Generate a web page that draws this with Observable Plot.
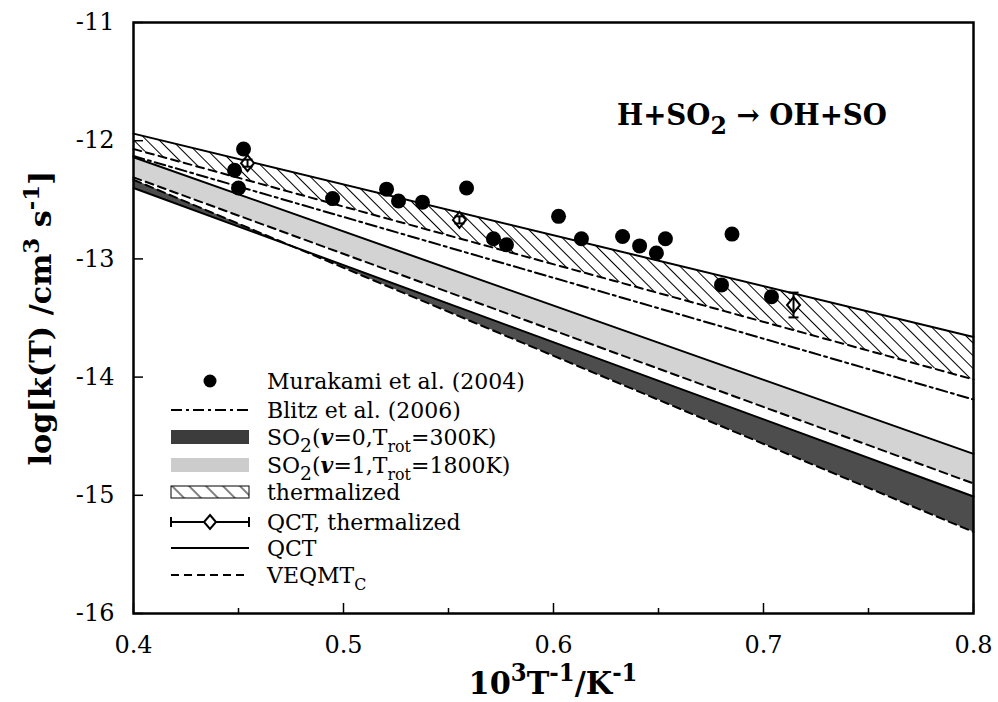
<!DOCTYPE html>
<html><head><meta charset="utf-8">
<script src="https://cdn.jsdelivr.net/npm/d3@7"></script>
<script src="https://cdn.jsdelivr.net/npm/@observablehq/plot@0.6"></script>
<style>body{margin:0;background:#fff;} svg{display:block}</style>
</head><body><div id="chart"></div>
<script>
// ---- data ----
const xEnds = [0.4, 0.8];
const qctThermalized = [-11.94, -13.66];
const veqmtThermalized = [-12.07, -14.02];
const blitz2006 = [-12.13, -14.19];
const qctV1 = [-12.14, -14.65];
const veqmtV1 = [-12.31, -14.90];
const qctV0 = [-12.40, -15.01];
const veqmtV0 = [-12.33, -15.31];

const murakamiX = [0.4524, 0.4481, 0.4500, 0.4948, 0.5205, 0.5262, 0.5376, 0.5586, 0.5714, 0.5776, 0.6024, 0.6133, 0.6329, 0.6410, 0.6490, 0.6533, 0.6850, 0.6800, 0.7038];
const murakamiY = [-12.07, -12.25, -12.40, -12.49, -12.41, -12.51, -12.52, -12.40, -12.83, -12.88, -12.64, -12.83, -12.81, -12.89, -12.95, -12.83, -12.79, -13.22, -13.32];

const qctTX = [0.4543, 0.5552, 0.7143];
const qctTY = [-12.19, -12.67, -13.39];
const qctTErr = [0.03, 0.03, 0.105];

const xTicks = [0.4, 0.5, 0.6, 0.7, 0.8];
const xMinorTicks = [0.45, 0.55, 0.65, 0.75];
const yTicks = [-16, -15, -14, -13, -12, -11];

const legendLabels = ["Murakami et al. (2004)", "Blitz et al. (2006)", "SO2(v=0,Trot=300K)", "SO2(v=1,Trot=1800K)", "thermalized", "QCT, thermalized", "QCT", "VEQMTC"];

// ---- tables ----
const rows = xEnds.map((x, i) => ({x, qctT: qctThermalized[i], veqT: veqmtThermalized[i], blitz: blitz2006[i],
  qctV1: qctV1[i], veqV1: veqmtV1[i], qctV0: qctV0[i], veqV0: veqmtV0[i]}));
const murakami = murakamiX.map((x, i) => ({x, y: murakamiY[i]}));
const qctT = qctTX.map((x, i) => ({x, y: qctTY[i], e: qctTErr[i]}));

const capSym = {draw(ctx) { ctx.moveTo(-5, 0); ctx.lineTo(5, 0); }};
const diamondSym = {draw(ctx) { ctx.moveTo(0, -8); ctx.lineTo(6.5, 0); ctx.lineTo(0, 8); ctx.lineTo(-6.5, 0); ctx.closePath(); }};

const W = 998, H = 702, mL = 133, mR = 25, mT = 22, mB = 89;
const fw = W - mL - mR, fh = H - mT - mB;

const chart = Plot.plot({
  width: W, height: H, marginLeft: mL, marginRight: mR, marginTop: mT, marginBottom: mB,
  x: {domain: [0.4, 0.8]},
  y: {domain: [-16, -11]},
  style: {background: "#fff", color: "#000", fontFamily: "DejaVu Serif", fontSize: "24px", overflow: "visible"},
  marks: [
    Plot.areaY(rows, {x: "x", y1: "veqT", y2: "qctT", fill: "url(#hatch)"}),
    Plot.areaY(rows, {x: "x", y1: "veqV1", y2: "qctV1", fill: "#d3d3d3"}),
    Plot.areaY(rows, {x: "x", y1: "veqV0", y2: "qctV0", fill: "#4d4d4d"}),
    Plot.line(rows, {x: "x", y: "qctT", stroke: "#000", strokeWidth: 2}),
    Plot.line(rows, {x: "x", y: "veqT", stroke: "#000", strokeWidth: 2, strokeDasharray: "8,5"}),
    Plot.line(rows, {x: "x", y: "blitz", stroke: "#000", strokeWidth: 2, strokeDasharray: "11,4,3,4"}),
    Plot.line(rows, {x: "x", y: "qctV1", stroke: "#000", strokeWidth: 2}),
    Plot.line(rows, {x: "x", y: "veqV1", stroke: "#000", strokeWidth: 2, strokeDasharray: "8,5"}),
    Plot.line(rows, {x: "x", y: "qctV0", stroke: "#000", strokeWidth: 2}),
    Plot.line(rows, {x: "x", y: "veqV0", stroke: "#000", strokeWidth: 2, strokeDasharray: "8,5"}),
    Plot.dot(murakami, {x: "x", y: "y", r: 7.5, fill: "#000"}),
    Plot.dot(qctT, {x: "x", y: "y", symbol: diamondSym, fill: "#fff", stroke: "#000", strokeWidth: 2}),
    Plot.ruleX(qctT, {x: "x", y1: d => d.y - d.e, y2: d => d.y + d.e, stroke: "#000", strokeWidth: 2}),
    Plot.dot(qctT, {x: "x", y: d => d.y + d.e, symbol: capSym, fill: "none", stroke: "#000", strokeWidth: 2}),
    Plot.dot(qctT, {x: "x", y: d => d.y - d.e, symbol: capSym, fill: "none", stroke: "#000", strokeWidth: 2}),
    Plot.tickX(xTicks, {x: d => d, insetTop: fh - 10, stroke: "#000", strokeWidth: 1.5}),
    Plot.tickX(xMinorTicks, {x: d => d, insetTop: fh - 5, stroke: "#000", strokeWidth: 1.5}),
    Plot.tickY(yTicks, {y: d => d, insetRight: fw - 10, stroke: "#000", strokeWidth: 1.5}),
    Plot.frame({stroke: "#000", strokeWidth: 2.5}),
    Plot.axisX(xTicks, {tickSize: 0, tickPadding: 22, tickFormat: d => d.toFixed(1), label: null, fontSize: 24}),
    Plot.axisY(yTicks, {tickSize: 0, tickPadding: 19, tickFormat: d => String(d), label: null, fontSize: 24})
  ]
});
document.getElementById("chart").appendChild(chart);

// ---- decorations: hatch pattern, titles, annotation, legend ----
const svg = d3.select(chart);
const defs = svg.insert("defs", ":first-child");
const pat = defs.append("pattern").attr("id", "hatch").attr("patternUnits", "userSpaceOnUse")
  .attr("width", 9).attr("height", 9).attr("patternTransform", "rotate(-45)");
pat.append("line").attr("x1", 4.5).attr("y1", 0).attr("x2", 4.5).attr("y2", 9).attr("stroke", "#000").attr("stroke-width", 1);
const pat2 = defs.append("pattern").attr("id", "hatchL").attr("patternUnits", "userSpaceOnUse")
  .attr("width", 12).attr("height", 12).attr("patternTransform", "rotate(-45)");
pat2.append("line").attr("x1", 6).attr("y1", 0).attr("x2", 6).attr("y2", 12).attr("stroke", "#000").attr("stroke-width", 1);

function rich(g, segs, size, opts = {}) {
  const t = g.append("text").attr("font-family", "DejaVu Serif").attr("font-size", size).attr("fill", "#000")
    .attr("text-anchor", opts.anchor || "start");
  if (opts.bold) t.attr("font-weight", "bold");
  let shift = 0;
  for (const s of segs) {
    const sp = t.append("tspan").text(s.t);
    let target = 0, fs = size;
    if (s.sub) { target = size * 0.32; fs = size * (s.scale || 0.72); }
    if (s.sup) { target = -size * 0.42; fs = size * (s.scale || 0.75); }
    sp.attr("font-size", fs);
    if (target !== shift) { sp.attr("dy", target - shift); shift = target; }
    if (s.bi) sp.attr("font-weight", "bold").attr("font-style", "italic");
  }
  return t;
}

// y title
rich(svg.append("g").attr("transform", "translate(51,318) rotate(-90)"),
  [{t: "log[k(T) /cm"}, {t: "3", sup: true}, {t: " s"}, {t: "-1", sup: true}, {t: "]"}], 29, {bold: true, anchor: "middle"})
  .attr("textLength", 295).attr("lengthAdjust", "spacingAndGlyphs");

// x title
rich(svg.append("g").attr("transform", "translate(553,694)"),
  [{t: "10"}, {t: "3", sup: true}, {t: "T"}, {t: "-1", sup: true}, {t: "/K"}, {t: "-1", sup: true}], 31, {bold: true, anchor: "middle"})
  .attr("textLength", 169).attr("lengthAdjust", "spacingAndGlyphs");

// reaction annotation
rich(svg.append("g").attr("transform", "translate(617,125)"),
  [{t: "H+SO"}, {t: "2", sub: true, scale: 0.85}, {t: " \u2192 OH+SO"}], 29, {bold: true})
  .attr("textLength", 270).attr("lengthAdjust", "spacingAndGlyphs");

// legend
const lg = svg.append("g");
const rowsY = [381, 410, 437, 465, 492, 522, 548, 575];
const sx1 = 171, sx2 = 249, sxm = 210, tx = 267, fsL = 22;
lg.append("circle").attr("cx", sxm).attr("cy", rowsY[0]).attr("r", 6.5).attr("fill", "#000");
lg.append("line").attr("x1", sx1).attr("x2", sx2).attr("y1", rowsY[1]).attr("y2", rowsY[1]).attr("stroke", "#000").attr("stroke-width", 2).attr("stroke-dasharray", "11,4,3,4");
lg.append("rect").attr("x", sx1).attr("y", rowsY[2] - 7).attr("width", sx2 - sx1).attr("height", 14).attr("fill", "#3c3c3c");
lg.append("rect").attr("x", sx1).attr("y", rowsY[3] - 7).attr("width", sx2 - sx1).attr("height", 14).attr("fill", "#cccccc");
lg.append("rect").attr("x", sx1).attr("y", rowsY[4] - 6).attr("width", sx2 - sx1).attr("height", 12).attr("fill", "url(#hatchL)").attr("stroke", "#000").attr("stroke-width", 1);
lg.append("line").attr("x1", sx1).attr("x2", sx2).attr("y1", rowsY[5]).attr("y2", rowsY[5]).attr("stroke", "#000").attr("stroke-width", 2);
[sx1, sx2].forEach(x => lg.append("line").attr("x1", x).attr("x2", x).attr("y1", rowsY[5] - 5).attr("y2", rowsY[5] + 5).attr("stroke", "#000").attr("stroke-width", 2));
lg.append("path").attr("d", `M${sxm},${rowsY[5] - 7}L${sxm + 6},${rowsY[5]}L${sxm},${rowsY[5] + 7}L${sxm - 6},${rowsY[5]}Z`).attr("fill", "#fff").attr("stroke", "#000").attr("stroke-width", 2);
lg.append("line").attr("x1", sx1).attr("x2", sx2).attr("y1", rowsY[6]).attr("y2", rowsY[6]).attr("stroke", "#000").attr("stroke-width", 2);
lg.append("line").attr("x1", sx1).attr("x2", sx2).attr("y1", rowsY[7]).attr("y2", rowsY[7]).attr("stroke", "#000").attr("stroke-width", 2).attr("stroke-dasharray", "8,5");

const legendSegs = [
  [{t: legendLabels[0]}],
  [{t: legendLabels[1]}],
  [{t: "SO"}, {t: "2", sub: true, scale: 0.85}, {t: "("}, {t: "v", bi: true}, {t: "=0,T"}, {t: "rot", sub: true}, {t: "=300K)"}],
  [{t: "SO"}, {t: "2", sub: true, scale: 0.85}, {t: "("}, {t: "v", bi: true}, {t: "=1,T"}, {t: "rot", sub: true}, {t: "=1800K)"}],
  [{t: legendLabels[4]}],
  [{t: legendLabels[5]}],
  [{t: legendLabels[6]}],
  [{t: "VEQMT"}, {t: "C", sub: true}]
];
legendSegs.forEach((segs, i) => {
  rich(lg.append("g").attr("transform", `translate(${tx},${rowsY[i] + 8})`), segs, fsL);
});
</script>
</body></html>
